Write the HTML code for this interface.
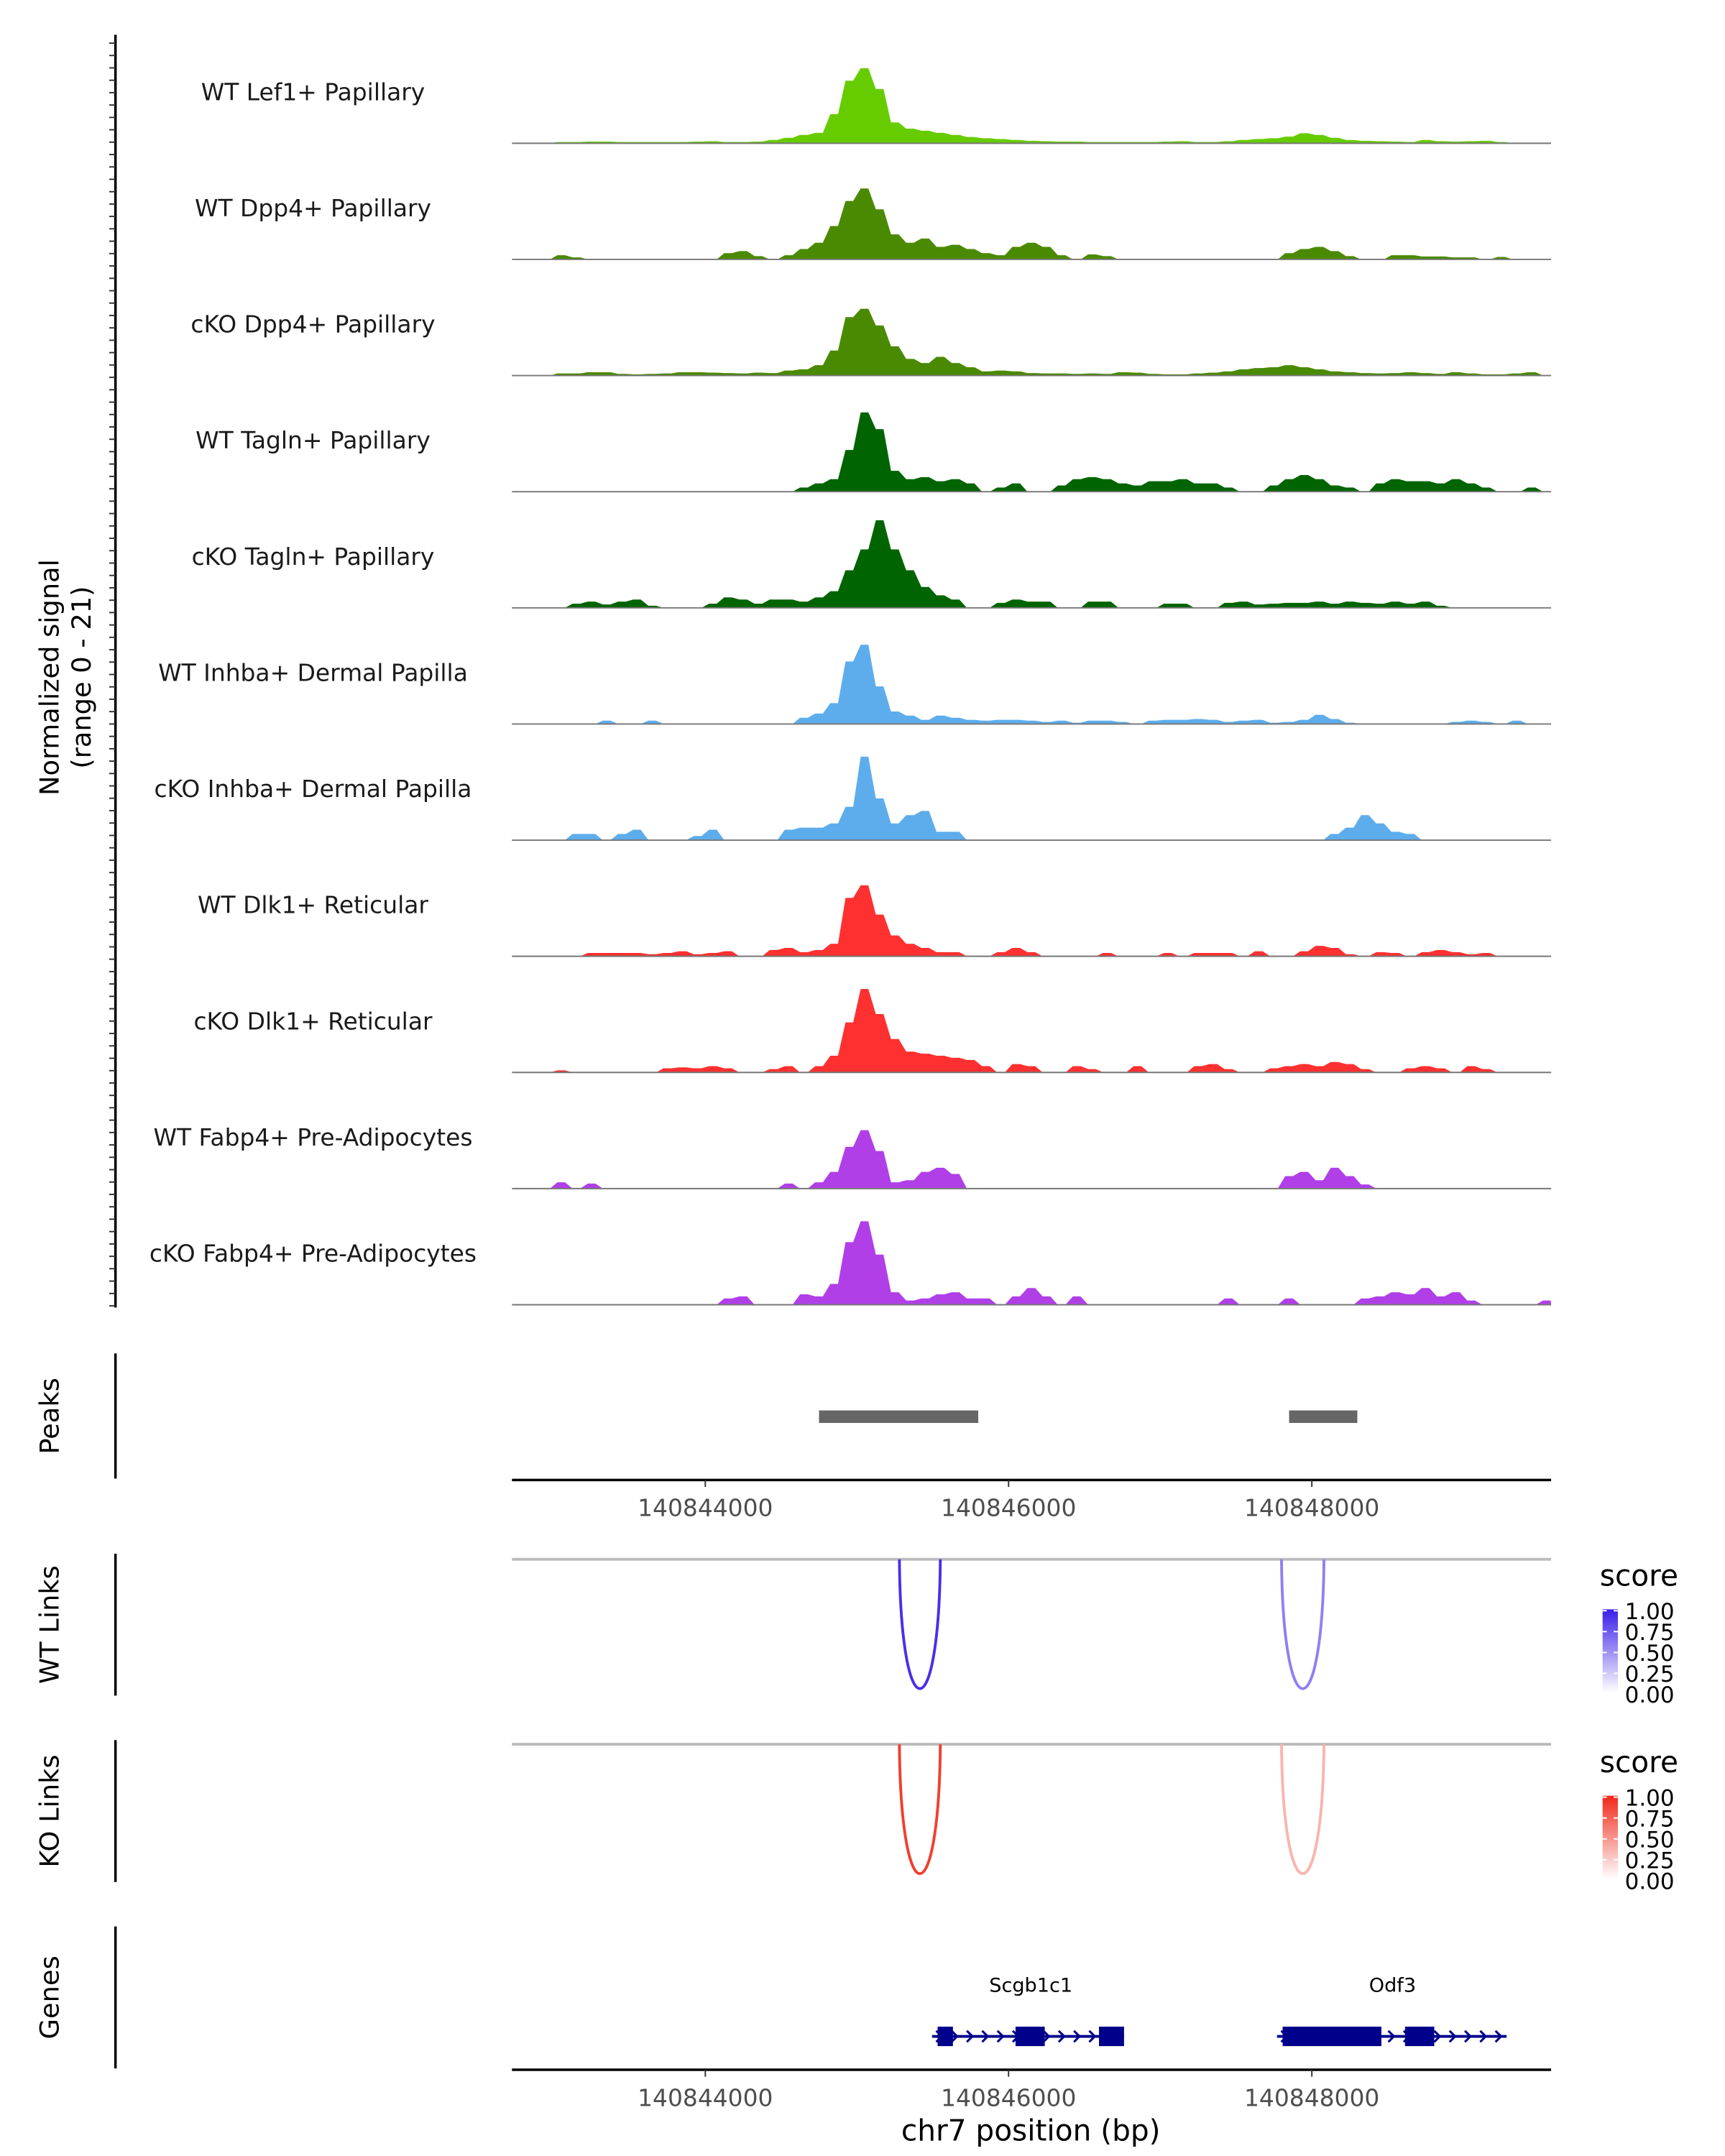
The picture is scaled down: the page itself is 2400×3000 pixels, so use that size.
<!DOCTYPE html>
<html><head><meta charset="utf-8"><style>
html,body{margin:0;padding:0;background:#fff;}
svg{display:block;font-family:"DejaVu Sans","Liberation Sans",sans-serif;}
</style></head><body>
<svg id="chart" xmlns="http://www.w3.org/2000/svg" width="2400" height="3000" viewBox="0 0 1240 1550"></svg>
<script>
const binStart = 140842725, binSize = 100;
const trackLabels = ["WT Lef1+ Papillary","WT Dpp4+ Papillary","cKO Dpp4+ Papillary","WT Tagln+ Papillary","cKO Tagln+ Papillary","WT Inhba+ Dermal Papilla","cKO Inhba+ Dermal Papilla","WT Dlk1+ Reticular","cKO Dlk1+ Reticular","WT Fabp4+ Pre-Adipocytes","cKO Fabp4+ Pre-Adipocytes"];
const trackColors = ["#66CC00","#4A8A00","#4A8A00","#006400","#006400","#5DADEC","#5DADEC","#FF3030","#FF3030","#B03FE8","#B03FE8"];
const sigWTLef1 = [0,0,0,0.3,0.3,0.4,0.4,0.3,0.3,0.3,0.3,0.3,0.4,0.5,0.3,0.3,0.4,0.8,1.3,2,2.5,7,15,18,13,5,3.5,3,2.5,2,1.5,1.2,1,0.8,0.6,0.5,0.4,0.4,0.3,0.3,0.3,0.3,0.3,0.4,0.5,0.3,0.3,0.5,0.8,1,1.2,1.6,2.4,2,1.3,0.8,0.6,0.5,0.4,0.3,0.8,0.5,0.4,0.5,0.6,0.3,0,0,0];
const sigWTDpp4 = [0,0,0,1,0.5,0,0,0,0,0,0,0,0,0,1.5,2,0.8,0,1,2.5,4,8,14,17,12,6,4,5,3,3.5,2.5,1.5,1,3,4,3,1,0,1.2,0.8,0,0,0,0,0,0,0,0,0,0,0,1.5,2.5,3,2,0.8,0,0,1,1,0.7,0.7,0.5,0.5,0,0.6,0,0,0];
const sigKODpp4 = [0,0,0,0.5,0.5,0.8,0.8,0.4,0.3,0.4,0.5,0.8,0.8,0.7,0.6,0.5,0.7,0.6,1.2,1.5,2.5,6,14,16,12,7,4,3,4.5,3,2,1,1.2,1,0.6,0.5,0.5,0.4,0.5,0.4,0.8,0.7,0.4,0.3,0.3,0.5,0.7,1,1.5,1.8,2,2.5,2,1.5,1,0.8,0.6,0.5,0.6,0.8,0.6,0.4,0.8,0.5,0.3,0.3,0.5,0.8,0];
const sigWTTagln = [0,0,0,0,0,0,0,0,0,0,0,0,0,0,0,0,0,0,0,1,2,3,10,19,15,5,3,3.5,2.5,3,2,0,1,2,0,0,1.5,3,3.5,3,2,1.5,2.5,2.5,3,2,2,1,0,0,1.5,3,4,3,1.5,1,0,2,3,2.5,2.5,2,3,2,1,0,0,1,0];
const sigKOTagln = [0,0,0,0,1,1.5,0.8,1.5,2,0.5,0,0,0,1,2.5,2,1,2,2,1.5,2.5,4,9,14,21,14,9,5,3,2,0,0,1.2,2,1.5,1.5,0,0,1.5,1.5,0,0,0,1,1,0,0,1.2,1.5,0.8,1,1.2,1.2,1.5,1,1.5,1.2,1,1.5,1,1.5,0.5,0,0,0,0,0,0,0];
const sigWTInhba = [0,0,0,0,0,0,0.8,0,0,0.8,0,0,0,0,0,0,0,0,0,1.5,2.5,5,15,19,9,3,2,1,2,1.5,1,0.8,1,1,0.8,0.5,0.8,0.3,0.8,0.8,0.5,0,0.8,1,1,1.2,1,0.5,0.8,1,0.3,0.5,1,2.2,1.2,0.3,0,0,0,0,0,0,0.5,0.8,0.5,0,0.8,0,0];
const sigKOInhba = [0,0,0,0,1.5,1.5,0,1.5,2.5,0,0,0,1,2.5,0,0,0,0,2.5,3,3,4,8,20,10,4,6,7,2,2,0,0,0,0,0,0,0,0,0,0,0,0,0,0,0,0,0,0,0,0,0,0,0,0,1.5,3,6,4,2,1.5,0,0,0,0,0,0,0,0,0];
const sigWTDlk1 = [0,0,0,0,0,0.8,0.8,0.8,0.8,0.5,0.8,1.2,0.5,0.8,1.2,0,0,1.5,2,1,1.5,3,14,17,10,5,3,2,1,1,0,0,1,2,1,0,0,0,0,0.8,0,0,0,0.8,0,0.8,0.8,0.8,0,1.2,0,0,1.2,2.5,2,0.5,0,1,0.8,0,1,1.5,1,0.5,0.8,0,0,0,0];
const sigKODlk1 = [0,0,0,0.5,0,0,0,0,0,0,1,1.2,1,1.5,1,0,0,0.8,1.5,0,1.5,4,12,20,14,8,5,4.5,4,3.5,3,1.5,0,2,1.5,0,0,1.5,0.8,0,0,1.5,0,0,0,1.5,2,0.8,0,0,1,1.5,2,1.5,2.5,2,0.8,0,0,1,1.5,1,0,1.5,0.8,0,0,0,0];
const sigWTFabp4 = [0,0,0,1.5,0,1.2,0,0,0,0,0,0,0,0,0,0,0,0,1.2,0,1.5,4,10,14,9,1.5,2,4,5,3.5,0,0,0,0,0,0,0,0,0,0,0,0,0,0,0,0,0,0,0,0,0,3,4,2,5,3,1,0,0,0,0,0,0,0,0,0,0,0,0];
const sigKOFabp4 = [0,0,0,0,0,0,0,0,0,0,0,0,0,0,1.5,2,0,0,0,2.5,2,5,15,20,12,3,1,1.5,2.5,3,1.5,1.5,0,2,4,2,0,2,0,0,0,0,0,0,0,0,0,1.5,0,0,0,1.5,0,0,0,0,1.5,2,3,2.5,4,2,3,1,0,0,0,0,1];
const signals = [sigWTLef1,sigWTDpp4,sigKODpp4,sigWTTagln,sigKOTagln,sigWTInhba,sigKOInhba,sigWTDlk1,sigKODlk1,sigWTFabp4,sigKOFabp4];
const axisTicks = [140844000,140846000,140848000];
const peakStarts = [140844750,140847850];
const peakEnds = [140845800,140848300];
const wtLinkStart = [140845280,140847800];
const wtLinkEnd = [140845550,140848080];
const wtLinkScore = [0.9,0.55];
const koLinkStart = [140845280,140847800];
const koLinkEnd = [140845550,140848080];
const koLinkScore = [0.9,0.35];
const legendLabels = ["1.00","0.75","0.50","0.25","0.00"];

const NS="http://www.w3.org/2000/svg", svg=document.getElementById('chart');
function el(tag, attrs, parent){const e=document.createElementNS(NS,tag);for(const k in attrs)e.setAttribute(k,attrs[k]);(parent||svg).appendChild(e);return e;}
function xs(bp){return 507+(bp-140844000)*0.109;}
const X0=368,X1=1115,unitPx=3;

let a=el('line',{x1:83,y1:25,x2:83,y2:940,stroke:'#000','stroke-width':1.8});

for(let y=31;y<=940;y+=8.9){const t=el('line',{x1:78.5,y1:y,x2:83,y2:y,stroke:'#333','stroke-width':1});
}
let tt=el('text',{x:0,y:0,'font-size':19,'text-anchor':'middle',fill:'#000',transform:'translate(42,487) rotate(-90)'});tt.textContent='Normalized signal';

tt=el('text',{x:0,y:0,'font-size':19,'text-anchor':'middle',fill:'#000',transform:'translate(65,487) rotate(-90)'});tt.textContent='(range 0 - 21)';


signals.forEach((s,k)=>{
  const base=103+k*83.5;
  let d='M'+X0+','+base;
  s.forEach((v,i)=>{const xa=X0+i*10.9; d+=' L'+xa.toFixed(1)+','+(base-v*unitPx).toFixed(1)+' L'+(xa+5.45).toFixed(1)+','+(base-v*unitPx).toFixed(1);});
  d+=' L'+X1+','+base+' Z';
  const p=el('path',{d:d,fill:trackColors[k]});
  
  const bl=el('line',{x1:X0,y1:base,x2:X1,y2:base,stroke:'#777','stroke-width':1});
  
  const lb=el('text',{x:225,y:base-31,'font-size':17,'text-anchor':'middle',fill:'#1a1a1a'});lb.textContent=trackLabels[k];
  
});

function panelTitle(txt,cy,y1,y2,name){
  const l=el('line',{x1:83,y1:y1,x2:83,y2:y2,stroke:'#000','stroke-width':1.8});
  
  const t=el('text',{x:0,y:0,'font-size':19,'text-anchor':'middle',fill:'#000',transform:'translate(42,'+cy+') rotate(-90)'});t.textContent=txt;
  
}
panelTitle('Peaks',1018,973,1063,'peaks');
panelTitle('WT Links',1168,1117,1219,'wt-links');
panelTitle('KO Links',1302,1251,1353,'ko-links');
panelTitle('Genes',1436,1385,1487,'genes');

peakStarts.forEach((s,i)=>{const r=el('rect',{x:xs(s),y:1014,width:xs(peakEnds[i])-xs(s),height:9,fill:'#666'});
});

function xAxis(y,name){
  const l=el('line',{x1:X0,y1:y,x2:X1,y2:y,stroke:'#000','stroke-width':1.8});
  
  axisTicks.forEach(t=>{const tk=el('line',{x1:xs(t),y1:y,x2:xs(t),y2:y+5,stroke:'#333','stroke-width':1});
  
  const tl=el('text',{x:xs(t),y:y+26,'font-size':17,'text-anchor':'middle',fill:'#4d4d4d'});tl.textContent=t;
  });
}
xAxis(1064,'peaks-x-axis');
xAxis(1488,'genes-x-axis');
let xt=el('text',{x:741,y:1539,'font-size':21,'text-anchor':'middle',fill:'#000'});xt.textContent='chr7 position (bp)';


function mix(c,s){return 'rgb('+c.map(v=>Math.round(255+(v-255)*s)).join(',')+')';}
function links(top,starts,ends,scores,col,name){
  const g=el('line',{x1:X0,y1:top,x2:X1,y2:top,stroke:'#bbb','stroke-width':2});
  
  starts.forEach((s,i)=>{const a=xs(s),b=xs(ends[i]),bot=top+94;
    const p=el('path',{d:`M${a},${top} C${a+1},${bot+30} ${b-1},${bot+30} ${b},${top}`,fill:'none',stroke:mix(col,scores[i]),'stroke-width':2});
    });
}
links(1121,wtLinkStart,wtLinkEnd,wtLinkScore,[58,20,232],'wt-link');
links(1254,koLinkStart,koLinkEnd,koLinkScore,[240,40,24],'ko-link');

const defs=el('defs',{});
function legend(top,col,id,name){
  const gr=el('linearGradient',{id:id,x1:0,y1:0,x2:0,y2:1},defs);
  el('stop',{offset:0,'stop-color':col},gr);el('stop',{offset:1,'stop-color':'#fff'},gr);
  const t=el('text',{x:1150,y:top,'font-size':21,fill:'#000'});t.textContent='score';
  
  const r=el('rect',{x:1152,y:top+17,width:11,height:60,fill:`url(#${id})`});
  
  legendLabels.forEach((l,i)=>{const yy=top+18+i*15;
    el('line',{x1:1152,y1:yy,x2:1155,y2:yy,stroke:'#fff'});el('line',{x1:1160,y1:yy,x2:1163,y2:yy,stroke:'#fff'});
    const tl=el('text',{x:1168,y:yy+6,'font-size':16,fill:'#000'});tl.textContent=l;
    });
}
legend(1140,'#3a1ee8','gb','wt-legend');
legend(1274,'#f02818','gr','ko-legend');

const G='#00008B';
function gene(x1,x2,exons,label,lx){
  const l=el('line',{x1:x1,y1:1464,x2:x2,y2:1464,stroke:G,'stroke-width':2});
  
  for(let x=x1+6;x<x2-2;x+=11){const c=el('path',{d:`M${x-3},${1460} L${x+1},${1464} L${x-3},${1468}`,fill:'none',stroke:G,'stroke-width':1.6});
    }
  exons.forEach(e=>{const r=el('rect',{x:e[0],y:1457,width:e[1]-e[0],height:14,fill:G});
    });
  const t=el('text',{x:lx,y:1432,'font-size':14,'text-anchor':'middle',fill:'#000'});t.textContent=label;
  
}
gene(670,808,[[674,685],[730,751],[790,808]],'Scgb1c1',741);
gene(918,1083,[[922,993],[1010,1031]],'Odf3',1001);
</script>
</body></html>
